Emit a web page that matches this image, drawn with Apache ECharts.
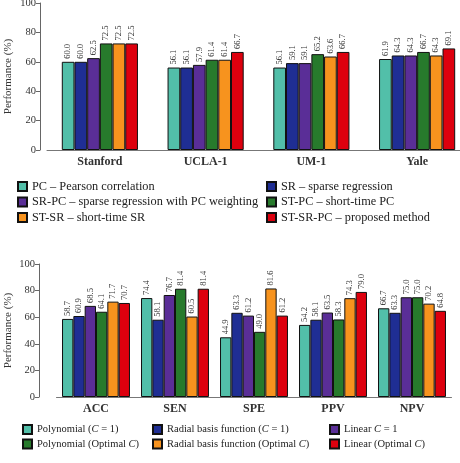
<!DOCTYPE html>
<html>
<head>
<meta charset="utf-8">
<script src="https://cdn.jsdelivr.net/npm/echarts@6/dist/echarts.min.js"></script>
<style>
  html, body { margin: 0; padding: 0; background: #fff; }
  #chart { width: 460px; height: 463px; }
</style>
</head>
<body>
<div id="chart"></div>
<script>
// top panel: datasets
const datasetNames = ['Stanford', 'UCLA-1', 'UM-1', 'Yale']
const methodNames = [
  'PC – Pearson correlation',
  'SR – sparse regression',
  'SR-PC – sparse regression with PC weighting',
  'ST-PC – short-time PC',
  'ST-SR – short-time SR',
  'ST-SR-PC – proposed method'
]
const pcVals = [60.0, 56.1, 56.1, 61.9]
const srVals = [60.0, 56.1, 59.1, 64.3]
const srPcVals = [62.5, 57.9, 59.1, 64.3]
const stPcVals = [72.5, 61.4, 65.2, 66.7]
const stSrVals = [72.5, 61.4, 63.6, 64.3]
const stSrPcVals = [72.5, 66.7, 66.7, 69.1]

// bottom panel: metrics
const metricNames = ['ACC', 'SEN', 'SPE', 'PPV', 'NPV']
const kernelNames = [
  'Polynomial (C = 1)',
  'Radial basis function (C = 1)',
  'Linear C = 1',
  'Polynomial (Optimal C)',
  'Radial basis function (Optimal C)',
  'Linear (Optimal C)'
]
const polyC1 = [58.7, 74.4, 44.9, 54.2, 66.7]
const rbfC1 = [60.9, 58.1, 63.3, 58.1, 63.3]
const linC1 = [68.5, 76.7, 61.2, 63.5, 75.0]
const polyOpt = [64.1, 81.4, 49.0, 58.3, 75.0]
const rbfOpt = [71.7, 60.5, 81.6, 74.3, 70.2]
const linOpt = [70.7, 81.4, 61.2, 79.0, 64.8]

const yTicks = [0, 20, 40, 60, 80, 100]

const colors = ['#52bfa9', '#1f2e94', '#5a2e97', '#277a2c', '#f7931e', '#dd000e']
const serif = '"Liberation Serif", "DejaVu Serif", serif'

const chart = echarts.init(document.getElementById('chart'))

const makeSeries = (name, data, idx, axisIdx, catGap) => ({
  name,
  type: 'bar',
  xAxisIndex: axisIdx,
  yAxisIndex: axisIdx,
  data,
  barGap: '0%',
  barCategoryGap: catGap,
  itemStyle: { color: colors[idx], borderColor: '#111', borderWidth: 1 },
  label: {
    show: true,
    position: 'top',
    rotate: 90,
    align: 'left',
    verticalAlign: 'middle',
    distance: 3,
    fontFamily: serif,
    fontSize: 8.5,
    color: '#333',
    formatter: p => p.value.toFixed(1)
  },
  emphasis: { disabled: true }
})

const yAxisBase = (gridIndex, offset, nameGap) => ({
  gridIndex,
  type: 'value',
  min: yTicks[0],
  max: yTicks[yTicks.length - 1],
  interval: yTicks[1] - yTicks[0],
  offset,
  name: 'Performance (%)',
  nameLocation: 'middle',
  nameGap,
  nameMoveOverlap: false,
  nameTextStyle: { fontFamily: serif, fontSize: 11, color: '#333' },
  axisLine: { show: true, lineStyle: { color: '#666', width: 1 } },
  axisTick: { show: true, length: 4, lineStyle: { color: '#666' } },
  axisLabel: { fontFamily: serif, fontSize: 10.5, color: '#333', margin: 4 },
  splitLine: { show: false }
})

const xAxisBase = (gridIndex, data) => ({
  gridIndex,
  type: 'category',
  data,
  axisLine: { show: true, lineStyle: { color: '#777', width: 1 } },
  axisTick: { show: false },
  axisLabel: { fontFamily: serif, fontSize: 12, fontWeight: 'bold', color: '#333', margin: 6 }
})

const legendBase = (left, top, data, fontSize) => ({
  left,
  top,
  orient: 'vertical',
  padding: 0,
  data,
  icon: 'rect',
  itemWidth: 9,
  itemHeight: 9,
  itemGap: 3.5,
  selectedMode: false,
  textStyle: {
    fontFamily: serif,
    fontSize,
    color: '#222',
    rich: { i: { fontFamily: serif, fontSize, fontStyle: 'italic', color: '#222' } }
  },
  formatter: name => name.replace(/\bC\b/g, '{i|C}')
})

const option = {
  animation: false,
  grid: [
    { left: 47, top: 3, width: 423, height: 147, outerBoundsMode: 'none', containLabel: false },
    { left: 56.5, top: 264, width: 395, height: 133, outerBoundsMode: 'none', containLabel: false }
  ],
  xAxis: [xAxisBase(0, datasetNames), xAxisBase(1, metricNames)],
  yAxis: [yAxisBase(0, 7, 26.5), yAxisBase(1, 17.5, 25.5)],
  legend: [
    legendBase(17, 180.5, [methodNames[0], methodNames[2], methodNames[4]], 12.3),
    legendBase(266, 180.5, [methodNames[1], methodNames[3], methodNames[5]], 12.3),
    legendBase(22, 424, [kernelNames[0], kernelNames[3]], 10.5),
    legendBase(152, 424, [kernelNames[1], kernelNames[4]], 10.5),
    legendBase(329, 424, [kernelNames[2], kernelNames[5]], 10.5)
  ],
  series: [
    makeSeries(methodNames[0], pcVals, 0, 0, '28%'),
    makeSeries(methodNames[1], srVals, 1, 0, '28%'),
    makeSeries(methodNames[2], srPcVals, 2, 0, '28%'),
    makeSeries(methodNames[3], stPcVals, 3, 0, '28%'),
    makeSeries(methodNames[4], stSrVals, 4, 0, '28%'),
    makeSeries(methodNames[5], stSrPcVals, 5, 0, '28%'),
    makeSeries(kernelNames[0], polyC1, 0, 1, '14%'),
    makeSeries(kernelNames[1], rbfC1, 1, 1, '14%'),
    makeSeries(kernelNames[2], linC1, 2, 1, '14%'),
    makeSeries(kernelNames[3], polyOpt, 3, 1, '14%'),
    makeSeries(kernelNames[4], rbfOpt, 4, 1, '14%'),
    makeSeries(kernelNames[5], linOpt, 5, 1, '14%')
  ]
}

chart.setOption(option)
</script>
</body>
</html>
